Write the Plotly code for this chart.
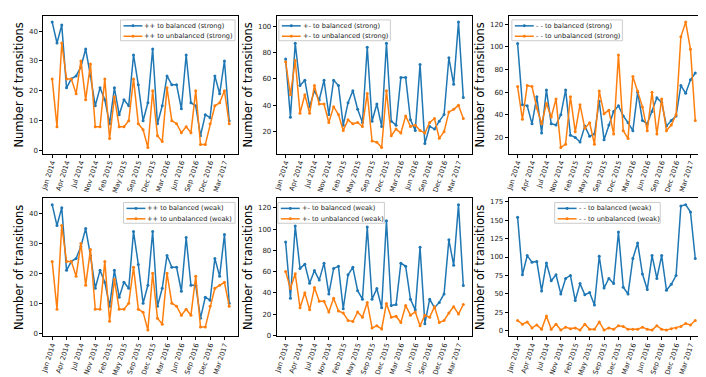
import plotly.graph_objects as go
from plotly.subplots import make_subplots

# month labels (Sep 2014 and Aug 2015 are absent from the data)
months = ["Jan 2014", "Feb 2014", "Mar 2014", "Apr 2014", "May 2014", "Jun 2014",
          "Jul 2014", "Aug 2014", "Oct 2014", "Nov 2014", "Dec 2014",
          "Jan 2015", "Feb 2015", "Mar 2015", "Apr 2015", "May 2015", "Jun 2015",
          "Jul 2015", "Sep 2015", "Oct 2015", "Nov 2015", "Dec 2015",
          "Jan 2016", "Feb 2016", "Mar 2016", "Apr 2016", "May 2016", "Jun 2016",
          "Jul 2016", "Aug 2016", "Sep 2016", "Oct 2016", "Nov 2016", "Dec 2016",
          "Jan 2017", "Feb 2017", "Mar 2017", "Apr 2017"]
tick_labels = months[::3]

pp_bal_strong = [43, 36, 42, 21, 24, 25, 28, 34, 25, 15, 21, 17, 9, 21, 12, 17, 15, 32, 22,
                 10, 16, 34, 9, 15, 25, 22, 22, 14, 32, 16, 15, 5, 12, 11, 25, 19, 30, 10]
pp_unbal_strong = [24, 8, 36, 24, 24, 19, 30, 17, 29, 8, 8, 24, 4, 18, 8, 8, 10, 24, 9,
                   7, 1, 20, 5, 3, 21, 10, 9, 6, 8, 6, 20, 2, 2, 9, 15, 16, 20, 9]
pm_bal_strong = [75, 31, 87, 55, 59, 39, 51, 44, 59, 33, 59, 55, 25, 42, 51, 37, 27, 84, 28,
                 41, 24, 87, 28, 25, 61, 61, 29, 21, 71, 11, 24, 22, 28, 33, 76, 56, 103, 46]
pm_unbal_strong = [73, 48, 74, 34, 48, 34, 55, 41, 41, 27, 39, 33, 21, 29, 26, 27, 24, 49, 13,
                   12, 8, 51, 17, 22, 19, 32, 24, 25, 21, 19, 27, 30, 15, 20, 35, 37, 40, 30]
mm_bal_strong = [103, 49, 48, 32, 56, 24, 62, 32, 31, 40, 62, 22, 20, 16, 30, 21, 23, 52, 18,
                 31, 43, 48, 39, 33, 26, 60, 35, 32, 43, 55, 51, 30, 35, 39, 66, 59, 71, 77]
mm_unbal_strong = [65, 36, 66, 65, 46, 32, 50, 38, 54, 11, 14, 56, 25, 49, 28, 33, 14, 61, 41,
                   44, 23, 93, 26, 19, 74, 61, 47, 26, 60, 23, 54, 26, 31, 40, 109, 122, 98, 35]

pp_bal_weak = [43, 36, 42, 21, 24, 25, 29, 35, 26, 15, 21, 17, 9, 21, 12, 17, 15, 34, 23,
               10, 16, 34, 9, 15, 26, 22, 22, 14, 32, 16, 16, 5, 12, 11, 25, 19, 33, 10]
pp_unbal_weak = [24, 8, 36, 24, 24, 19, 30, 16, 28, 8, 8, 24, 4, 18, 8, 8, 10, 22, 8,
                 7, 1, 20, 5, 3, 20, 10, 9, 6, 8, 6, 19, 2, 2, 9, 15, 16, 17, 9]
pm_bal_weak = [88, 35, 103, 63, 67, 49, 61, 52, 68, 39, 63, 65, 25, 57, 64, 42, 34, 102, 34,
               44, 26, 108, 28, 29, 68, 65, 34, 24, 83, 11, 34, 26, 31, 39, 90, 66, 123, 47]
pm_unbal_weak = [60, 44, 58, 26, 40, 24, 45, 32, 32, 22, 35, 23, 21, 14, 13, 22, 17, 31, 7,
                 9, 6, 30, 17, 18, 12, 28, 19, 22, 9, 19, 17, 27, 12, 14, 21, 27, 20, 29]
mm_bal_weak = [154, 76, 102, 93, 94, 54, 92, 68, 76, 50, 71, 75, 41, 64, 49, 52, 35, 101, 58,
               71, 64, 134, 59, 50, 98, 119, 77, 56, 102, 71, 102, 55, 63, 75, 169, 171, 161, 98]
mm_unbal_weak = [14, 9, 12, 4, 8, 2, 20, 2, 9, 1, 5, 3, 4, 1, 9, 2, 2, 12, 1,
                 4, 2, 7, 6, 2, 2, 2, 5, 2, 1, 7, 2, 1, 3, 4, 6, 10, 8, 14]

BLUE = "#1f77b4"
ORANGE = "#ff7f0e"
FONT = "DejaVu Sans"
W, H = 706, 377

panels = [
    ("++", "strong", pp_bal_strong, pp_unbal_strong, [-1.1, 45.1], 10),
    ("+-", "strong", pm_bal_strong, pm_unbal_strong, [3.25, 107.75], 20),
    ("- -", "strong", mm_bal_strong, mm_unbal_strong, [5.45, 127.55], 20),
    ("++", "weak", pp_bal_weak, pp_unbal_weak, [-1.1, 45.1], 10),
    ("+-", "weak", pm_bal_weak, pm_unbal_weak, [-1.0, 129.0], 20),
    ("- -", "weak", mm_bal_weak, mm_unbal_weak, [-7.5, 179.5], 25),
]

x_domains = [[0.046, 0.323], [0.378, 0.656], [0.708, 0.986]]
y_domains = [[0.610, 0.979], [0.122, 0.491]]
# legend boxes in pixels: left, top, width
legend_box = [(110, 12, 115), (269, 12, 112), (503, 12, 111),
              (113, 196, 112), (268, 196, 107), (546, 196, 106)]


def px(x):
    return x / W


def py(y):
    return 1 - y / H


fig = make_subplots(rows=2, cols=3)

for i, (sign, kind, bal, unbal, yr, dt) in enumerate(panels):
    row, col = i // 3 + 1, i % 3 + 1
    names = ["%s to balanced (%s)" % (sign, kind), "%s to unbalanced (%s)" % (sign, kind)]
    for vals, name, color in [(bal, names[0], BLUE), (unbal, names[1], ORANGE)]:
        fig.add_trace(go.Scatter(x=months, y=vals, mode="lines+markers", name=name,
                                 line=dict(color=color, width=1.5),
                                 marker=dict(color=color, size=3), showlegend=False),
                      row=row, col=col)
    fig.update_xaxes(type="category", range=[-1.85, 38.85],
                     tickmode="array", tickvals=tick_labels, ticktext=tick_labels,
                     tickangle=-72, ticks="outside", ticklen=3, tickcolor="black",
                     ticklabelstandoff=-2,
                     showline=True, linecolor="black", linewidth=1, mirror=True,
                     showgrid=False, tickfont=dict(size=6.8, color="#222"),
                     domain=x_domains[col - 1], row=row, col=col)
    fig.update_yaxes(range=yr, dtick=dt, ticks="outside", ticklen=3, tickcolor="black",
                     showline=True, linecolor="black", linewidth=1, mirror=True,
                     showgrid=False, zeroline=False, tickfont=dict(size=7, color="#222"),
                     title=dict(text="Number of transitions",
                                font=dict(size=11.5, color="black"), standoff=2),
                     domain=y_domains[row - 1], row=row, col=col)

    # compact matplotlib-style legend
    left, top, width = legend_box[i]
    fig.add_shape(type="rect", xref="paper", yref="paper",
                  x0=px(left), x1=px(left + width), y0=py(top + 21), y1=py(top),
                  line=dict(color="#cccccc", width=1), fillcolor="rgba(255,255,255,0.8)",
                  layer="above")
    for k, (name, color) in enumerate([(names[0], BLUE), (names[1], ORANGE)]):
        yc = top + 6 + 10.5 * k
        fig.add_shape(type="line", xref="paper", yref="paper",
                      x0=px(left + 3), x1=px(left + 22), y0=py(yc), y1=py(yc),
                      line=dict(color=color, width=1.5), layer="above")
        fig.add_shape(type="circle", xref="paper", yref="paper",
                      x0=px(left + 11), x1=px(left + 14), y0=py(yc + 1.5), y1=py(yc - 1.5),
                      line=dict(color=color, width=0), fillcolor=color, layer="above")
        fig.add_annotation(text=name, xref="paper", yref="paper", x=px(left + 22), y=py(yc),
                           xanchor="left", yanchor="middle", showarrow=False,
                           font=dict(size=6.6, color="#222"))

fig.update_layout(width=W, height=H, margin=dict(l=0, r=0, t=0, b=0),
                  plot_bgcolor="white", paper_bgcolor="white",
                  font=dict(family=FONT), showlegend=False)

fig.write_html("out.html")
